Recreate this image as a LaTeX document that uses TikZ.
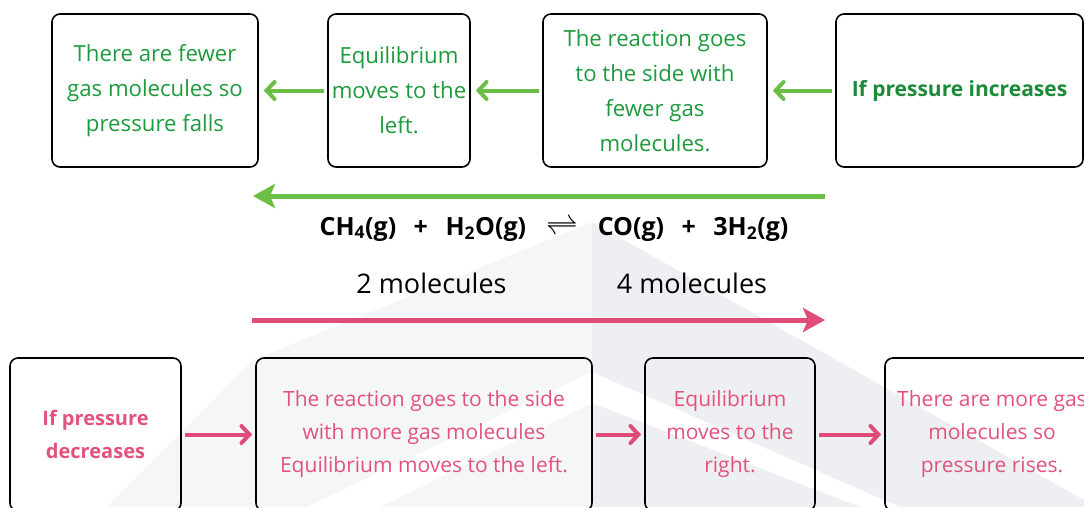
\documentclass[tikz,border=0pt]{standalone}
\usepackage{fontspec}
\setmainfont{Open Sans}
\usetikzlibrary{arrows.meta}

\definecolor{gtext}{HTML}{1E9A3E}
\definecolor{garrow}{HTML}{6CBF46}
\definecolor{ptext}{HTML}{E2527C}
\definecolor{parrow}{HTML}{E04C77}
\definecolor{wmleft}{HTML}{F5F6F8}
\definecolor{wmright}{HTML}{EEEFF2}

\begin{document}
\begin{tikzpicture}[x=1pt, y=-1pt,
		box/.style={draw, rounded corners=8pt, line width=1.6pt, align=center, inner sep=0pt, minimum height=153pt},
		uptext/.style={text=gtext, font=\fontsize{22.2}{35}\selectfont},
		downtext/.style={text=ptext, font=\fontsize{21}{33}\selectfont},
		step up/.style={draw=garrow, line width=4pt, -{Straight Barb[length=8pt,width=17pt,line width=4pt,line cap=round]}, shorten <=3pt, shorten >=5pt},
		step down/.style={draw=parrow, line width=4pt, -{Straight Barb[length=8pt,width=17pt,line width=4pt,line cap=round]}, shorten <=3pt, shorten >=3pt},
		shift arrow/.style={line width=5pt, -{Stealth[length=22pt,width=24pt,inset=5pt]}}]
	
	\useasboundingbox (0,0) rectangle (1084,507);
	\clip (0,0) rectangle (1084,507);
	
	% watermark
	\fill[wmleft] (592,222) -- (253,360) -- (107,507) -- (306,507) -- (592,372) -- cycle;
	\fill[wmleft] (592,403) -- (592,507) -- (380,507) -- cycle;
	\fill[wmright] (592,222) -- (1084,500) -- (1084,507) -- (900,507) -- (592,372) -- cycle;
	\fill[wmright] (592,403) -- (592,507) -- (860,507) -- cycle;
	
	% pressure increases
	\node[box, minimum width=247pt, uptext, font=\bfseries\fontsize{21}{35}\selectfont, text=gtext!90!black] (incr) at (959.5,90.5) {If pressure increases};
	\node[box, minimum width=224pt, uptext] (fewside) at (655,90.5) {The reaction goes\\to the side with\\fewer gas\\molecules.};
	\node[box, minimum width=142pt, uptext] (left) at (399,90.5) {Equilibrium\\moves to the\\left.};
	\node[box, minimum width=206pt, uptext] (falls) at (155,90.5) {There are fewer\\gas molecules so\\pressure falls};
	
	\draw[step up] (incr) -- (fewside);
	\draw[step up] (fewside) -- (left);
	\draw[step up] (left) -- (falls);
	
	% equation
	\coordinate (gstart) at (825,196);
	\coordinate (gend) at (253,196);
	\draw[shift arrow, garrow] (gstart) -- (gend);
	
	\node[font=\bfseries\fontsize{25}{30}\selectfont] (eqn) at (554,229) {CH\textsubscript{4}(g)\hspace{0.7em}+\hspace{0.7em}H\textsubscript{2}O(g)\hspace{0.8em}\scalebox{1.3}{$\rightleftharpoons$}\hspace{0.8em}CO(g)\hspace{0.7em}+\hspace{0.7em}3H\textsubscript{2}(g)};
	\node[font=\fontsize{27}{32}\selectfont] (lhs) at (431.5,283) {2 molecules};
	\node[font=\fontsize{27}{32}\selectfont] (rhs) at (692,283) {4 molecules};
	
	\coordinate (pstart) at (252,320);
	\coordinate (pend) at (825,320);
	\draw[shift arrow, parrow] (pstart) -- (pend);
	
	% pressure decreases
	\node[box, minimum width=171pt, downtext, font=\bfseries\fontsize{20}{33}\selectfont] (decr) at (95.5,434.5) {If pressure\\decreases};
	\node[box, minimum width=336pt, downtext] (moreside) at (424,434.5) {The reaction goes to the side\\with more gas molecules\\Equilibrium moves to the left.};
	\node[box, minimum width=170pt, downtext] (right) at (730,434.5) {Equilibrium\\moves to the\\right.};
	\node[box, minimum width=214pt, downtext] (rises) at (992,434.5) {There are more gas\\molecules so\\pressure rises.};
	
	\draw[step down] (decr) -- (moreside);
	\draw[step down] (moreside) -- (right);
	\draw[step down] (right) -- (rises);
	
\end{tikzpicture}
\end{document}
